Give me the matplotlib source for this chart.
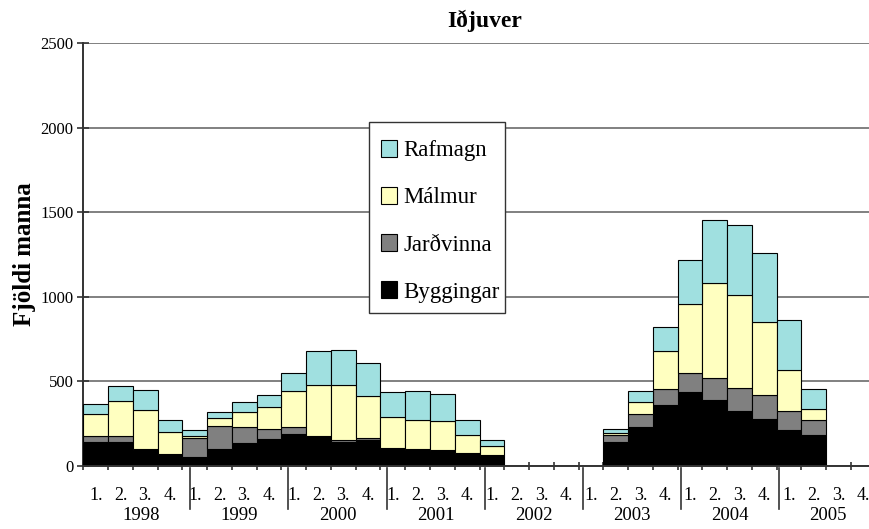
import matplotlib
matplotlib.use("Agg")
import matplotlib.pyplot as plt
import matplotlib.transforms as mtransforms
from matplotlib.patches import Rectangle
import numpy as np

plt.rcParams['font.family'] = ['Liberation Serif', 'DejaVu Serif']

years = ['1998', '1999', '2000', '2001', '2002', '2003', '2004', '2005']
quarters = ['1.', '2.', '3.', '4.']

# values per quarter, 1998 Q1 .. 2005 Q4 (32 quarters)
byggingar = [142, 138, 91, 62, 53, 101, 136, 156, 189, 168, 142, 150, 97, 95, 87, 69,
             57, 0, 0, 0, 0, 142, 231, 357, 438, 390, 322, 274, 209, 180, 0, 0]
jardvinna = [34, 39, 10, 9, 111, 136, 91, 61, 38, 9, 12, 12, 8, 6, 4, 6,
             6, 0, 0, 0, 0, 41, 75, 96, 112, 127, 139, 144, 116, 90, 0, 0]
malmur = [130, 204, 227, 127, 13, 45, 92, 132, 215, 300, 323, 250, 181, 169, 173, 107,
          52, 0, 0, 0, 0, 10, 71, 225, 405, 562, 547, 432, 239, 65, 0, 0]
rafmagn = [57, 92, 121, 74, 32, 34, 59, 69, 108, 201, 209, 197, 150, 172, 162, 86,
           39, 0, 0, 0, 0, 24, 65, 142, 263, 374, 417, 408, 298, 119, 0, 0]

series = [('Byggingar', byggingar, '#000000'),
          ('Jarðvinna', jardvinna, '#808080'),
          ('Málmur', malmur, '#FFFFC0'),
          ('Rafmagn', rafmagn, '#A0E0E0')]

W, H = 869, 529
fig = plt.figure(figsize=(W / 100, H / 100), dpi=100)
ax = fig.add_axes([83.3 / W, 1 - 465.7 / H, (875.7 - 83.3) / W, (465.7 - 43) / H])

n = len(byggingar)
x = np.arange(n)
bottom = np.zeros(n)
handles = {}
for name, vals, col in series:
    v = np.array(vals, dtype=float)
    mask = v > 0
    b = ax.bar(x[mask], v[mask], bottom=bottom[mask], width=1.0, color=col,
               edgecolor='black', linewidth=0.8, label=name, zorder=3)
    handles[name] = b
    bottom += v

ax.set_xlim(-0.5, n - 0.5)
ax.set_ylim(0, 2500)
ax.set_yticks(np.arange(0, 2501, 500))
ax.yaxis.grid(True, color='#808080', linewidth=1.4, zorder=0)
ax.set_axisbelow(True)
for s in ['top', 'right']:
    ax.spines[s].set_visible(False)
ax.spines['left'].set_color('#333333')
ax.spines['left'].set_linewidth(1.4)
ax.spines['bottom'].set_color('#333333')
ax.spines['bottom'].set_linewidth(1.4)
ax.spines['bottom'].set_zorder(4)

ax.tick_params(axis='y', direction='inout', length=8, width=1.2, color='#333333',
               labelsize=12, pad=3)

# x axis: minor ticks at boundaries, labels at centers
ax.set_xticks(x)
ax.set_xticklabels([quarters[i % 4] for i in range(n)], fontsize=13)
ax.tick_params(axis='x', which='major', length=0, pad=15)
ax.set_xticks(np.arange(-0.5, n, 1.0), minor=True)
ax.tick_params(axis='x', which='minor', direction='inout', length=6, width=1.2,
               color='#333333')

trans = mtransforms.blended_transform_factory(ax.transData, ax.transAxes)
seps = [-0.5 + 4 * i + (0.35 - 0.035 * i) * 1.0 for i in range(len(years) + 1)]
for i in range(1, len(years)):
    ax.plot([seps[i], seps[i]], [-0.006, -0.102], transform=trans, color='#333333',
            linewidth=1.2, clip_on=False)
for i, yr in enumerate(years):
    xc = (seps[i] + seps[i + 1]) / 2
    ax.text(xc, -0.118, yr, transform=trans, ha='center', va='center', fontsize=13.5)

ax.set_ylabel('Fjöldi manna', fontsize=18, fontweight='bold', labelpad=3)
fig.text(485 / W, 1 - 21 / H, 'Iðjuver', ha='center', va='center', fontsize=17,
         fontweight='bold')

# legend box drawn separately (asymmetric padding as in the original)
box = Rectangle((369.3 / W, 1 - 313 / H), (505 - 369.3) / W, (313 - 121.7) / H,
                transform=fig.transFigure, facecolor='white', edgecolor='#333333',
                linewidth=1.0, zorder=9)
fig.patches.append(box)

order = ['Rafmagn', 'Málmur', 'Jarðvinna', 'Byggingar']
leg = fig.legend([handles[k] for k in order], order, loc='upper left',
                 bbox_to_anchor=(362.4 / W, 1 - 121.7 / H), borderaxespad=0,
                 fontsize=16.5, handlelength=0.73, handleheight=0.73,
                 handletextpad=0.25, labelspacing=1.13, borderpad=0.8,
                 frameon=False)
leg.set_zorder(10)

fig.savefig('out.png', dpi=100)
